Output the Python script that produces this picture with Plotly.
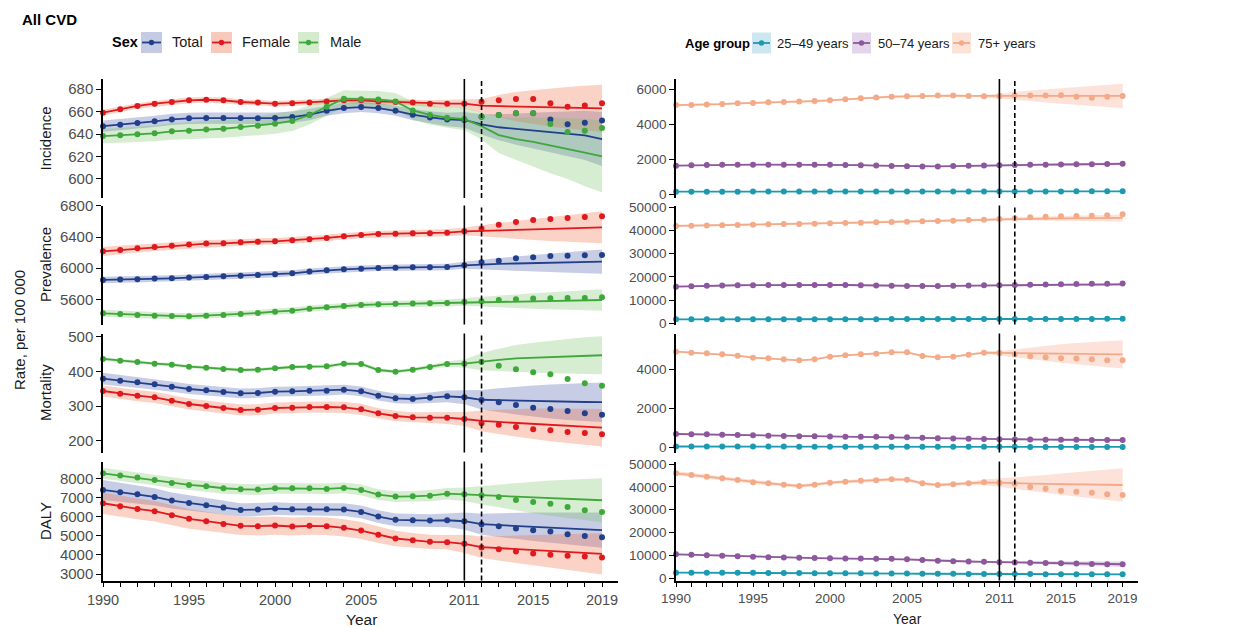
import plotly.graph_objects as go

YEARS = list(range(1990, 2020))
N_OBS_FIT = 22  # fitted line follows observed values up to 2011, forecast afterwards

# ---------------- Sex panels ----------------
INC_TOTAL = [647.0, 648.3, 649.8, 651.3, 653.0, 654.0, 654.2, 654.2, 654.2, 654.0, 654.2, 655.1, 657.2, 660.7, 663.1, 664.0, 663.1, 660.7, 657.2, 654.8, 653.0, 652.5, 655.4, 656.9, 658.4, 658.4, 653.0, 648.6, 650.0, 652.1]
INC_TOTAL_FIT = [648.5, 646.0, 644.5, 643.0, 641.5, 640.0, 638.8, 635.5]
INC_TOTAL_CI = [5.0, 5.0, 5.0, 5.0, 5.0, 5.0, 5.0, 5.0, 5.0, 5.0, 5.0, 5.0, 5.0, 4.5, 4.5, 4.5, 4.5, 4.5, 5.0, 5.5, 6.0, 7.0, 9.0, 11.5, 14.0, 16.0, 18.0, 20.0, 22.0, 24.0]
INC_FEMALE = [659.0, 662.0, 665.0, 667.0, 668.5, 670.0, 670.5, 670.0, 668.5, 668.0, 667.0, 667.5, 668.0, 669.0, 670.0, 670.0, 669.0, 668.5, 668.0, 667.0, 667.0, 667.0, 668.7, 670.0, 671.1, 671.1, 667.3, 664.3, 665.5, 667.3]
INC_FEMALE_FIT = [665.2, 664.8, 664.4, 664.0, 663.6, 663.3, 663.0, 662.8]
INC_FEMALE_CI = [2.5, 2.5, 2.5, 2.5, 2.5, 2.5, 2.5, 2.5, 2.5, 2.5, 2.5, 2.5, 2.5, 2.5, 2.5, 2.5, 2.5, 2.5, 2.5, 3.0, 3.5, 4.0, 6.0, 10.0, 13.0, 15.0, 17.0, 18.5, 20.0, 21.0]
INC_MALE = [638.2, 638.8, 639.7, 640.6, 642.4, 643.0, 644.1, 644.7, 646.2, 647.4, 649.2, 651.6, 656.9, 664.3, 671.5, 671.0, 670.8, 669.0, 661.0, 657.0, 654.5, 653.3, 655.4, 656.9, 658.4, 658.4, 648.9, 641.8, 642.9, 645.3]
INC_MALE_FIT = [647.0, 639.0, 635.5, 633.0, 630.0, 627.0, 623.5, 620.0]
INC_MALE_CI = [6.5, 6.5, 7.0, 7.0, 7.5, 7.5, 8.0, 8.0, 8.5, 8.5, 9.0, 9.0, 8.5, 8.0, 7.5, 7.5, 7.5, 7.5, 8.0, 8.5, 9.0, 10.0, 12.0, 16.0, 19.0, 22.0, 25.0, 27.0, 30.0, 32.0]

PREV_TOTAL = [5849, 5853, 5857, 5866, 5870, 5879, 5887, 5896, 5904, 5913, 5921, 5934, 5956, 5973, 5986, 5994, 6003, 6007, 6011, 6012, 6016, 6037, 6076, 6097, 6127, 6140, 6157, 6161, 6166, 6170]
PREV_TOTAL_FIT = [6050, 6055, 6060, 6065, 6070, 6075, 6080, 6084]
PREV_TOTAL_CI = [42, 41, 40, 40, 40, 40, 40, 40, 40, 40, 40, 40, 40, 40, 40, 40, 40, 40, 40, 40, 42, 45, 60, 75, 90, 105, 120, 132, 145, 155]
PREV_FEMALE = [6217, 6234, 6256, 6273, 6290, 6303, 6316, 6320, 6333, 6341, 6346, 6359, 6371, 6389, 6410, 6427, 6440, 6444, 6449, 6449, 6457, 6474, 6508, 6560, 6594, 6620, 6633, 6646, 6659, 6667]
PREV_FEMALE_FIT = [6478, 6485, 6492, 6498, 6505, 6512, 6519, 6526]
PREV_FEMALE_CI = [60, 57, 55, 52, 50, 48, 46, 45, 44, 43, 42, 42, 42, 42, 42, 42, 42, 42, 42, 43, 46, 50, 70, 95, 115, 135, 155, 170, 190, 205]
PREV_MALE = [5420, 5411, 5398, 5390, 5386, 5381, 5390, 5398, 5411, 5424, 5441, 5454, 5480, 5497, 5514, 5527, 5536, 5544, 5545, 5549, 5553, 5566, 5575, 5591, 5600, 5609, 5613, 5617, 5617, 5626]
PREV_MALE_FIT = [5570, 5573, 5576, 5579, 5582, 5585, 5588, 5591]
PREV_MALE_CI = [45, 43, 42, 40, 40, 40, 40, 40, 40, 40, 40, 40, 40, 40, 40, 40, 40, 40, 40, 42, 45, 50, 62, 75, 88, 100, 110, 120, 130, 137]

MORT_TOTAL = [378.8, 373.1, 368.3, 362.5, 355.8, 349.0, 345.2, 340.4, 336.5, 337.5, 341.3, 342.3, 344.2, 344.2, 347.1, 342.3, 329.8, 322.1, 320.2, 324.0, 328.0, 325.2, 317.4, 310.8, 303.0, 295.2, 291.5, 285.7, 279.0, 275.0]
MORT_TOTAL_FIT = [318.0, 317.0, 315.5, 314.0, 313.0, 312.0, 311.5, 311.0]
MORT_TOTAL_CI = [17, 16.5, 16, 15.5, 15, 14.5, 14, 14, 14, 14, 14, 14, 14, 14, 14, 14, 14, 14, 14, 15, 17, 20, 28, 34, 40, 45, 49, 52, 55, 57]
MORT_FEMALE = [343.3, 335.6, 329.8, 325.0, 315.4, 305.8, 300.0, 294.2, 288.5, 289.4, 294.2, 295.2, 297.1, 297.1, 296.2, 290.4, 278.8, 271.2, 267.3, 266.4, 266.4, 262.6, 250.1, 246.2, 239.5, 232.8, 229.9, 225.0, 222.2, 218.4]
MORT_FEMALE_FIT = [257.0, 254.0, 251.5, 249.0, 245.5, 242.5, 240.0, 237.5]
MORT_FEMALE_CI = [16, 16, 16, 16, 16, 16, 16, 16, 16, 16, 16, 16, 16, 16, 16, 16, 15, 15, 15, 16, 18, 20, 30, 35, 40, 44, 47, 50, 52, 54]
MORT_MALE = [435.6, 430.8, 426.9, 422.1, 419.2, 413.5, 410.6, 406.7, 403.8, 404.8, 408.7, 412.5, 413.5, 414.4, 422.1, 421.2, 403.8, 399.0, 404.8, 412.6, 421.2, 422.1, 427.9, 416.4, 405.8, 397.1, 391.3, 378.0, 365.4, 358.7]
MORT_MALE_FIT = [428.0, 433.0, 437.5, 439.5, 441.5, 443.5, 445.0, 446.3]
MORT_MALE_CI = [5, 5, 5, 5, 5, 5, 5, 5, 5, 5, 5, 5, 5, 5, 5, 5, 5, 5, 5, 6, 8, 12, 25, 32, 38, 43, 47, 50, 53, 55]

DALY_TOTAL = [7392, 7271, 7167, 7028, 6837, 6715, 6594, 6472, 6351, 6368, 6420, 6385, 6385, 6385, 6368, 6247, 6003, 5830, 5810, 5793, 5810, 5759, 5603, 5500, 5375, 5290, 5220, 5083, 4995, 4927]
DALY_TOTAL_FIT = [5603, 5560, 5520, 5470, 5420, 5380, 5330, 5290]
DALY_TOTAL_CI = [520, 500, 480, 450, 420, 400, 380, 360, 350, 340, 330, 330, 330, 330, 330, 330, 330, 330, 330, 330, 350, 450, 550, 620, 680, 740, 790, 840, 880, 920]
DALY_FEMALE = [6698, 6542, 6403, 6281, 6073, 5882, 5760, 5621, 5517, 5500, 5535, 5483, 5517, 5500, 5413, 5274, 5049, 4858, 4771, 4682, 4665, 4578, 4387, 4300, 4178, 4073, 4005, 3953, 3918, 3866]
DALY_FEMALE_FIT = [4405, 4350, 4300, 4250, 4200, 4150, 4100, 4057]
DALY_FEMALE_CI = [560, 550, 540, 530, 520, 510, 500, 490, 480, 480, 475, 470, 465, 460, 450, 440, 420, 400, 380, 370, 380, 470, 560, 640, 720, 800, 870, 940, 1010, 1080]
DALY_MALE = [8260, 8139, 8035, 7913, 7757, 7653, 7583, 7479, 7427, 7410, 7479, 7479, 7479, 7444, 7497, 7392, 7149, 7045, 7060, 7094, 7198, 7167, 7115, 7026, 6870, 6766, 6677, 6505, 6333, 6245]
DALY_MALE_FIT = [7115, 7080, 7040, 7000, 6960, 6920, 6890, 6854]
DALY_MALE_CI = [290, 285, 280, 280, 280, 280, 280, 280, 280, 280, 280, 280, 280, 280, 280, 280, 280, 280, 280, 290, 300, 350, 480, 600, 720, 820, 920, 1000, 1080, 1150]

# ---------------- Age-group panels ----------------
INC_Y = [172, 173, 173, 174, 174, 175, 175, 176, 176, 177, 177, 178, 178, 179, 180, 180, 181, 182, 183, 184, 185, 186, 187, 188, 189, 189, 190, 191, 192, 193]
INC_Y_FIT = [186, 187, 187, 188, 188, 189, 189, 190]
INC_Y_CI = [8, 8, 8, 8, 8, 8, 8, 8, 8, 8, 8, 8, 8, 8, 8, 8, 8, 8, 8, 8, 8, 9, 10, 12, 14, 16, 18, 20, 22, 24]
INC_M = [1650, 1670, 1690, 1700, 1710, 1710, 1710, 1710, 1710, 1700, 1700, 1690, 1680, 1660, 1640, 1620, 1610, 1610, 1630, 1650, 1660, 1680, 1690, 1700, 1710, 1720, 1730, 1740, 1750, 1760]
INC_M_FIT = [1690, 1700, 1710, 1720, 1730, 1740, 1750, 1760]
INC_M_CI = [40, 40, 40, 40, 40, 40, 40, 40, 40, 40, 40, 40, 40, 40, 40, 40, 40, 40, 40, 40, 40, 45, 50, 55, 60, 65, 70, 75, 80, 85]
INC_O = [5100, 5110, 5130, 5160, 5200, 5220, 5260, 5280, 5310, 5330, 5370, 5430, 5490, 5530, 5580, 5600, 5620, 5640, 5640, 5620, 5600, 5620, 5640, 5640, 5640, 5660, 5580, 5520, 5580, 5620]
INC_O_FIT = [5630, 5630, 5625, 5625, 5620, 5620, 5620, 5620]
INC_O_CI = [60, 60, 60, 60, 60, 60, 60, 60, 60, 60, 60, 60, 60, 60, 60, 60, 60, 60, 60, 60, 70, 120, 230, 300, 370, 440, 510, 580, 640, 700]

PREV_Y = [1700, 1705, 1712, 1720, 1728, 1735, 1742, 1750, 1758, 1765, 1772, 1780, 1788, 1795, 1802, 1810, 1818, 1825, 1832, 1840, 1848, 1855, 1862, 1870, 1878, 1885, 1892, 1900, 1908, 1915]
PREV_Y_FIT = [1860, 1865, 1870, 1875, 1880, 1885, 1890, 1895]
PREV_Y_CI = [80, 80, 80, 80, 80, 80, 80, 80, 80, 80, 80, 80, 80, 80, 80, 80, 80, 80, 80, 80, 80, 85, 95, 105, 115, 125, 135, 145, 155, 165]
PREV_M = [15800, 16000, 16150, 16300, 16400, 16450, 16500, 16550, 16550, 16550, 16550, 16500, 16400, 16300, 16200, 16100, 16050, 16050, 16150, 16250, 16350, 16450, 16550, 16650, 16750, 16850, 16950, 17050, 17100, 17200]
PREV_M_FIT = [16480, 16520, 16560, 16600, 16650, 16700, 16750, 16800]
PREV_M_CI = [300, 300, 300, 300, 300, 300, 300, 300, 300, 300, 300, 300, 300, 300, 300, 300, 300, 300, 300, 300, 300, 320, 360, 400, 440, 480, 520, 560, 600, 640]
PREV_O = [41954, 42098, 42170, 42241, 42385, 42529, 42672, 42816, 42816, 42960, 43103, 43247, 43391, 43534, 43678, 43822, 43966, 44109, 44253, 44540, 44684, 44971, 45259, 45690, 45977, 46121, 46264, 46408, 46552, 46983]
PREV_O_FIT = [45050, 45100, 45150, 45200, 45250, 45300, 45350, 45400]
PREV_O_CI = [450, 450, 450, 450, 450, 450, 450, 450, 450, 450, 450, 450, 450, 450, 450, 450, 450, 450, 450, 450, 480, 520, 650, 780, 900, 1020, 1140, 1260, 1380, 1500]

MORT_Y = [60, 60, 58, 58, 57, 56, 55, 55, 54, 53, 52, 52, 51, 50, 50, 49, 48, 47, 46, 45, 44, 43, 43, 42, 42, 41, 41, 40, 40, 40]
MORT_Y_FIT = [43, 42, 42, 41, 41, 40, 40, 40]
MORT_Y_CI = [5, 5, 5, 5, 5, 5, 5, 5, 5, 5, 5, 5, 5, 5, 5, 5, 5, 5, 5, 5, 5, 5, 6, 7, 8, 9, 10, 11, 12, 13]
MORT_M = [700, 690, 680, 665, 650, 630, 615, 600, 590, 580, 570, 565, 560, 555, 550, 530, 505, 485, 470, 455, 440, 430, 420, 415, 410, 405, 400, 395, 392, 390]
MORT_M_FIT = [422, 415, 410, 405, 400, 396, 392, 390]
MORT_M_CI = [30, 30, 30, 30, 30, 30, 30, 30, 30, 30, 30, 30, 30, 30, 30, 30, 30, 30, 30, 30, 30, 32, 36, 40, 44, 48, 52, 56, 60, 64]
MORT_O = [4902, 4851, 4817, 4766, 4698, 4596, 4562, 4511, 4460, 4511, 4647, 4715, 4766, 4800, 4868, 4868, 4681, 4613, 4647, 4749, 4851, 4834, 4766, 4664, 4613, 4562, 4545, 4511, 4460, 4460]
MORT_O_FIT = [4830, 4825, 4820, 4810, 4800, 4790, 4780, 4766]
MORT_O_CI = [40, 40, 40, 40, 40, 40, 40, 40, 40, 40, 40, 40, 40, 40, 40, 40, 40, 40, 40, 40, 60, 100, 200, 300, 390, 470, 540, 610, 670, 720]

DALY_Y = [2480, 2470, 2450, 2430, 2400, 2380, 2350, 2300, 2280, 2250, 2220, 2200, 2180, 2150, 2100, 2050, 2000, 1980, 1950, 1920, 1900, 1880, 1860, 1840, 1820, 1800, 1790, 1780, 1760, 1750]
DALY_Y_FIT = [1870, 1850, 1830, 1810, 1795, 1780, 1765, 1750]
DALY_Y_CI = [100, 100, 100, 100, 100, 100, 100, 100, 100, 100, 100, 100, 100, 100, 100, 100, 100, 100, 100, 100, 100, 110, 130, 150, 170, 190, 210, 230, 250, 270]
DALY_M = [10496, 10300, 10100, 9900, 9650, 9400, 9250, 9100, 8950, 8850, 8750, 8700, 8650, 8600, 8500, 8300, 8000, 7700, 7500, 7350, 7200, 7050, 6950, 6800, 6700, 6600, 6450, 6300, 6200, 6100]
DALY_M_FIT = [6950, 6850, 6750, 6600, 6500, 6350, 6250, 6150]
DALY_M_CI = [300, 300, 300, 300, 300, 300, 300, 300, 300, 300, 300, 300, 300, 300, 300, 300, 300, 300, 300, 300, 320, 380, 500, 620, 740, 850, 950, 1050, 1130, 1200]
DALY_O = [45918, 45190, 44461, 43732, 43003, 41983, 41545, 40962, 40379, 40962, 41837, 42274, 42711, 42857, 43294, 43149, 41545, 40816, 41108, 41545, 41983, 41837, 41399, 39942, 39213, 38338, 37901, 37464, 36735, 36443]
DALY_O_FIT = [41500, 41400, 41300, 41200, 41100, 41000, 40900, 40816]
DALY_O_CI = [1000, 950, 900, 850, 800, 780, 760, 740, 720, 700, 700, 700, 700, 700, 700, 700, 700, 700, 700, 800, 1200, 1800, 2500, 3200, 3900, 4600, 5300, 6000, 6700, 7300]

SEX_LABELS = ["Total", "Female", "Male"]
AGE_LABELS = ["25\u201349 years", "50\u201374 years", "75+ years"]
MEASURES = ["Incidence", "Prevalence", "Mortality", "DALY"]
X_TICK_LABELS = {1990: "1990", 1995: "1995", 2000: "2000", 2005: "2005", 2011: "2011", 2015: "2015", 2019: "2019"}

# ---------------- styling ----------------
PAGE_W, PAGE_H = 1245, 627
OFF = 8  # default page body margin
W, H = PAGE_W - OFF, PAGE_H - OFF
FONT = "Liberation Sans, Arial, sans-serif"
SEX_LINE = ["#223f8b", "#e0191f", "#3ea83a"]
SEX_FILL = ["rgba(70,88,170,0.30)", "rgba(240,105,65,0.30)", "rgba(110,190,90,0.28)"]
SEX_KEY = ["#c6cbe4", "#f8cabc", "#d4ebcd"]
AGE_LINE = ["#1b9ab2", "#8d579d", "#f4aa88"]
AGE_FILL = ["rgba(40,150,190,0.22)", "rgba(150,90,170,0.25)", "rgba(244,160,125,0.30)"]
AGE_KEY = ["#cde6ef", "#e5d5eb", "#fce3d7"]
Y_TICK_SIZE = [15, 13.5]
X_TICK_SIZE = [14.5, 13.5]

COL_X = [(103, 618), (676, 1138)]
X_RANGE = [[1990, 2019.93], [1990, 2020.0]]
ROW_Y = [(79, 198), (205.5, 324.5), (333.5, 452.5), (461.5, 580.5)]

LEFT = [
    ([INC_TOTAL, INC_FEMALE, INC_MALE], [INC_TOTAL_FIT, INC_FEMALE_FIT, INC_MALE_FIT], [INC_TOTAL_CI, INC_FEMALE_CI, INC_MALE_CI], [583, 689], [600, 620, 640, 660, 680]),
    ([PREV_TOTAL, PREV_FEMALE, PREV_MALE], [PREV_TOTAL_FIT, PREV_FEMALE_FIT, PREV_MALE_FIT], [PREV_TOTAL_CI, PREV_FEMALE_CI, PREV_MALE_CI], [5276, 6806], [5600, 6000, 6400, 6800]),
    ([MORT_TOTAL, MORT_FEMALE, MORT_MALE], [MORT_TOTAL_FIT, MORT_FEMALE_FIT, MORT_MALE_FIT], [MORT_TOTAL_CI, MORT_FEMALE_CI, MORT_MALE_CI], [166, 509], [200, 300, 400, 500]),
    ([DALY_TOTAL, DALY_FEMALE, DALY_MALE], [DALY_TOTAL_FIT, DALY_FEMALE_FIT, DALY_MALE_FIT], [DALY_TOTAL_CI, DALY_FEMALE_CI, DALY_MALE_CI], [2667, 8875], [3000, 4000, 5000, 6000, 7000, 8000]),
]
RIGHT = [
    ([INC_Y, INC_M, INC_O], [INC_Y_FIT, INC_M_FIT, INC_O_FIT], [INC_Y_CI, INC_M_CI, INC_O_CI], [-188, 6586], [0, 2000, 4000, 6000]),
    ([PREV_Y, PREV_M, PREV_O], [PREV_Y_FIT, PREV_M_FIT, PREV_O_FIT], [PREV_Y_CI, PREV_M_CI, PREV_O_CI], [-517, 50776], [0, 10000, 20000, 30000, 40000, 50000]),
    ([MORT_Y, MORT_M, MORT_O], [MORT_Y_FIT, MORT_M_FIT, MORT_O_FIT], [MORT_Y_CI, MORT_M_CI, MORT_O_CI], [-245, 5827], [0, 2000, 4000]),
    ([DALY_Y, DALY_M, DALY_O], [DALY_Y_FIT, DALY_M_FIT, DALY_O_FIT], [DALY_Y_CI, DALY_M_CI, DALY_O_CI], [-962, 51094], [0, 10000, 20000, 30000, 40000, 50000]),
]


def px(x):
    return (x - OFF) / W


def py(y):
    return 1 - (y - OFF) / H


fig = go.Figure()
layout = {}
shapes = []
annotations = []

for c, panels in enumerate([LEFT, RIGHT]):
    line_cols = SEX_LINE if c == 0 else AGE_LINE
    fill_cols = SEX_FILL if c == 0 else AGE_FILL
    for r, (obs_list, fit_list, ci_list, yr, yt) in enumerate(panels):
        idx = r * 2 + c + 1
        xa = "x" if idx == 1 else f"x{idx}"
        ya = "y" if idx == 1 else f"y{idx}"
        fits = [obs[:N_OBS_FIT] + fit for obs, fit in zip(obs_list, fit_list)]
        for s in range(3):
            upper = [f + h for f, h in zip(fits[s], ci_list[s])]
            lower = [f - h for f, h in zip(fits[s], ci_list[s])]
            fig.add_trace(go.Scatter(x=YEARS + YEARS[::-1], y=upper + lower[::-1], fill="toself",
                                     fillcolor=fill_cols[s], line=dict(width=0), mode="lines",
                                     hoverinfo="skip", showlegend=False, xaxis=xa, yaxis=ya))
        for s in range(3):
            fig.add_trace(go.Scatter(x=YEARS, y=fits[s], mode="lines", line=dict(color=line_cols[s], width=1.8),
                                     showlegend=False, xaxis=xa, yaxis=ya))
        for s in range(3):
            fig.add_trace(go.Scatter(x=YEARS, y=obs_list[s], mode="markers",
                                     marker=dict(color=line_cols[s], size=6, line=dict(width=0)),
                                     cliponaxis=False, showlegend=False, xaxis=xa, yaxis=ya))
        x0, x1 = COL_X[c]
        y0, y1 = ROW_Y[r]
        bottom = r == 3
        xkey = "xaxis" if idx == 1 else f"xaxis{idx}"
        ykey = "yaxis" if idx == 1 else f"yaxis{idx}"
        layout[xkey] = dict(domain=[px(x0), px(x1)], anchor=ya, range=X_RANGE[c], showgrid=False, zeroline=False,
                            visible=bottom, showline=bottom, linecolor="black", linewidth=1.5,
                            ticks="outside" if bottom else "", ticklen=5, tickwidth=1.2, tickcolor="black",
                            tickvals=YEARS, ticktext=[X_TICK_LABELS.get(y, "") for y in YEARS],
                            tickfont=dict(size=X_TICK_SIZE[c], color="#4d4d4d", family=FONT), tickangle=0,
                            automargin=False)
        layout[ykey] = dict(domain=[py(y1), py(y0)], anchor=xa, range=yr, showgrid=False, zeroline=False,
                            showline=True, linecolor="black", linewidth=1.5, ticks="outside", ticklen=5,
                            tickwidth=1.2, tickcolor="black", tickvals=yt, ticktext=[str(v) for v in yt],
                            tickfont=dict(size=Y_TICK_SIZE[c], color="#4d4d4d", family=FONT), automargin=False)
        for yr_line, dash in [(2011, "solid"), (2012, "5px,3px")]:
            shapes.append(dict(type="line", xref=xa, yref=f"{ya} domain", x0=yr_line, x1=yr_line, y0=0, y1=1,
                               line=dict(color="black", width=1.6, dash=dash), layer="above"))
        if c == 0:
            annotations.append(dict(text=MEASURES[r], x=px(45), y=py((y0 + y1) / 2), xref="paper", yref="paper",
                                    textangle=-90, showarrow=False, xanchor="center", yanchor="middle",
                                    font=dict(size=15, color="#1a1a1a", family=FONT)))

annotations.append(dict(text="Rate, per 100 000", x=px(19), y=py(330), xref="paper", yref="paper", textangle=-90,
                        showarrow=False, xanchor="center", yanchor="middle", font=dict(size=15, color="#1a1a1a", family=FONT)))
for cx, fs in [(361, 15.5), (907, 14)]:
    annotations.append(dict(text="Year", x=px(cx), y=py(619), xref="paper", yref="paper", showarrow=False,
                            xanchor="center", yanchor="middle", font=dict(size=fs, color="#1a1a1a", family=FONT)))
annotations.append(dict(text="<b>All CVD</b>", x=px(20), y=py(20), xref="paper", yref="paper", showarrow=False,
                        xanchor="left", yanchor="middle", font=dict(size=15, color="black", family=FONT)))


def add_legend(title, tx, labels, keys_x, text_x, line_cols, key_cols, ymid, fs, kw):
    annotations.append(dict(text=f"<b>{title}</b>", x=px(tx), y=py(ymid), xref="paper", yref="paper",
                            showarrow=False, xanchor="left", yanchor="middle",
                            font=dict(size=fs, color="black", family=FONT)))
    for lab, kx, lx, lc, kc in zip(labels, keys_x, text_x, line_cols, key_cols):
        shapes.append(dict(type="rect", xref="paper", yref="paper", x0=px(kx), x1=px(kx + kw),
                           y0=py(ymid + 10.5), y1=py(ymid - 10.5), fillcolor=kc, line=dict(width=0)))
        shapes.append(dict(type="line", xref="paper", yref="paper", x0=px(kx + 1), x1=px(kx + kw - 1),
                           y0=py(ymid), y1=py(ymid), line=dict(color=lc, width=1.8)))
        cx = kx + kw / 2
        shapes.append(dict(type="circle", xref="paper", yref="paper", x0=px(cx - 2.7), x1=px(cx + 2.7),
                           y0=py(ymid + 2.7), y1=py(ymid - 2.7), fillcolor=lc, line=dict(width=0)))
        annotations.append(dict(text=lab, x=px(lx), y=py(ymid), xref="paper", yref="paper", showarrow=False,
                                xanchor="left", yanchor="middle", font=dict(size=fs, color="#1a1a1a", family=FONT)))


add_legend("Sex", 110, SEX_LABELS, [141, 211, 298], [170, 240, 328], SEX_LINE, SEX_KEY, 42.5, 14.5, 21)
add_legend("Age group", 683, AGE_LABELS, [752, 852, 952], [775, 876, 976], AGE_LINE, AGE_KEY, 43, 13, 19)

fig.update_layout(width=W, height=H, autosize=False,
                  margin=dict(l=0, r=0, t=0, b=0, pad=0, autoexpand=False),
                  paper_bgcolor="white", plot_bgcolor="white", showlegend=False,
                  font=dict(family=FONT), shapes=shapes, annotations=annotations, **layout)

fig.write_html("out.html")
